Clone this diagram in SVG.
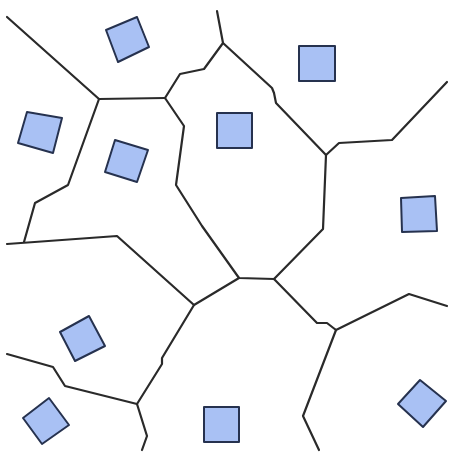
<svg xmlns="http://www.w3.org/2000/svg" width="449" height="452" viewBox="0 0 449 452">
<style>
.e{fill:none;stroke:#2a2a2a;stroke-width:2.2;stroke-linejoin:round;stroke-linecap:round}
.s{fill:#a9c1f4;stroke:#26324f;stroke-width:2;stroke-linejoin:round}
</style>
<rect width="449" height="452" fill="#ffffff"/>
<g id="connectors">
<polyline class="e" points="7,17 99,99 165,98"/>
<polyline class="e" points="165,98 180,74 204,69 223,43 217,11"/>
<polyline class="e" points="223,43 272,88 274,93 276,103 326,155"/>
<polyline class="e" points="326,155 339,143 392,140 447,82"/>
<polyline class="e" points="326,155 323,229 274,279"/>
<polyline class="e" points="165,98 184,126 176,185 202,226 239,278 274,279"/>
<polyline class="e" points="99,99 68,185 35,203 24,242"/>
<polyline class="e" points="7,244 117,236 194,305 239,278"/>
<polyline class="e" points="274,279 317,323 327,323 336,330"/>
<polyline class="e" points="336,330 409,294 447,306"/>
<polyline class="e" points="336,330 303,416 319,450"/>
<polyline class="e" points="194,305 162,358 162,364 137,404"/>
<polyline class="e" points="137,404 65,386 53,367 7,354"/>
<polyline class="e" points="137,404 147,436 142,450"/>
</g>
<g id="n1"><polygon class="s" points="106,30 137,17 149,47 118,62"/></g>
<g id="n2"><polygon class="s" points="27,112 62,118 53,153 18,143"/></g>
<g id="n3"><polygon class="s" points="115,140 148,150 137,182 105,172"/></g>
<g id="n4"><rect class="s" x="217" y="113" width="35" height="35"/></g>
<g id="n5"><rect class="s" x="299" y="46" width="36" height="35"/></g>
<g id="n6"><polygon class="s" points="401,198 435,196 437,231 402,232"/></g>
<g id="n7"><polygon class="s" points="60,332 89,316 105,346 75,361"/></g>
<g id="n8"><polygon class="s" points="23,418 49,398 69,425 42,444"/></g>
<g id="n9"><rect class="s" x="204" y="407" width="35" height="35"/></g>
<g id="n10"><polygon class="s" points="398,404 420,380 446,401 423,427"/></g>
</svg>
